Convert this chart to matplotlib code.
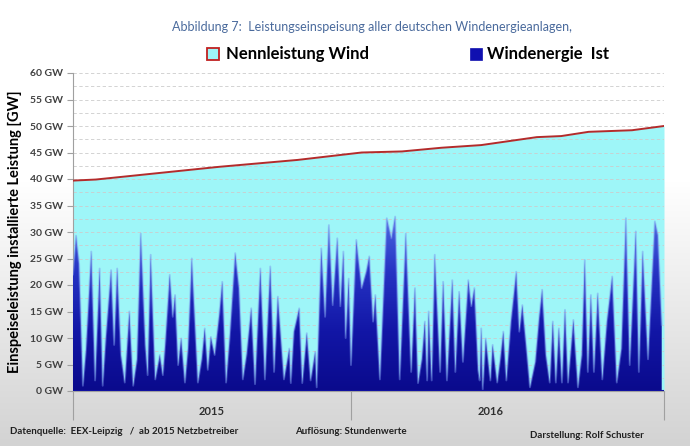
import numpy as np
import matplotlib
matplotlib.use("Agg")
import matplotlib.pyplot as plt
from matplotlib.colors import LinearSegmentedColormap
from matplotlib.patches import PathPatch, Rectangle

plt.rcParams['font.family'] = ['Lato', 'DejaVu Sans']

# days since 1 Jan 2015 and wind feed-in [GW] (peaks and troughs)
wind_days = [0, 4, 8, 13, 17, 24, 29, 35, 39, 43, 50, 54, 58, 63, 68, 74, 79, 84, 89, 95,
             98, 102, 108, 114, 118, 121, 127, 131, 134, 138, 142, 147, 151, 156, 164, 169, 173, 177, 181, 186,
             192, 196, 201, 206, 213, 218, 223, 228, 234, 239, 246, 252, 259, 264, 269, 277, 284, 286, 290, 297,
             301, 307, 312, 318, 320, 326, 331, 336, 341, 347, 351, 355, 358, 362, 365, 372, 379, 385, 389, 394,
             397, 403, 412, 418, 423, 429, 437, 444, 449, 453, 458, 462, 465, 467, 471, 475, 482, 486, 491, 498,
             502, 507, 512, 519, 523, 527, 532, 534, 536, 538, 542, 548, 551, 557, 561, 565, 569, 575, 582, 586,
             590, 595, 600, 607, 612, 616, 621, 626, 630, 634, 638, 642, 646, 650, 657, 663, 668, 672, 676, 680,
             684, 689, 695, 701, 708, 714, 720, 726, 731, 739, 743, 748, 755, 764, 768, 773]
wind_gw = [22.0, 29.3, 24.0, 1.0, 7.7, 26.3, 2.0, 23.1, 1.0, 9.9, 22.8, 8.7, 23.1, 6.8, 1.6, 15.0, 1.0, 6.0, 29.7, 8.7,
           3.0, 25.7, 2.2, 6.8, 3.0, 8.7, 21.9, 14.0, 18.1, 4.9, 9.9, 1.6, 8.0, 25.0, 1.6, 6.0, 11.8, 4.0, 10.2, 6.8,
           14.4, 20.6, 1.6, 10.6, 26.0, 19.4, 2.2, 7.0, 15.6, 1.3, 23.1, 2.2, 23.5, 3.6, 17.8, 2.2, 8.0, 1.5, 11.2, 15.6,
           1.5, 10.9, 2.0, 7.4, 0.7, 26.9, 14.0, 31.3, 16.2, 28.8, 16.0, 26.3, 10.0, 21.2, 4.9, 28.5, 19.4, 22.5, 25.4, 13.1,
           18.1, 2.2, 32.6, 28.8, 32.9, 2.2, 29.7, 3.6, 19.4, 1.5, 6.0, 13.1, 2.0, 15.0, 2.0, 25.7, 3.6, 20.6, 2.0, 20.9,
           3.6, 18.7, 5.5, 20.9, 16.0, 19.4, 4.0, 2.0, 11.8, 0.3, 9.9, 2.0, 8.7, 1.6, 6.0, 11.2, 2.0, 13.1, 22.5, 11.2,
           16.2, 8.7, 0.7, 5.5, 13.8, 19.1, 6.8, 1.6, 13.1, 1.6, 11.8, 1.6, 15.3, 1.6, 13.4, 0.7, 6.8, 24.7, 3.6, 18.1,
           3.6, 18.4, 2.2, 13.1, 21.6, 1.6, 8.0, 32.6, 4.9, 30.1, 3.6, 26.3, 6.0, 32.0, 29.4, 12.5]

# installed capacity [GW]
cap_days = [0, 30, 192, 295, 379, 432, 484, 536, 609, 641, 677, 734, 776]
cap_gw = [39.7, 39.9, 42.3, 43.6, 45.0, 45.2, 45.9, 46.4, 47.9, 48.1, 48.9, 49.2, 50.0]

year_ticks = [0, 365, 776]
year_labels = ['2015', '2016']
year_label_pos = [182, 548]

fig = plt.figure(figsize=(6.9, 4.46), dpi=100)

# light grey screen background, fading from white
bg = fig.add_axes([0, 0, 1, 1])
grad = np.concatenate([np.ones(180), np.linspace(1, 0, 266)]).reshape(-1, 1)
bg_cmap = LinearSegmentedColormap.from_list('bg', ['#d3d3d3', '#ffffff'])
bg.imshow(grad, aspect='auto', cmap=bg_cmap, extent=[0, 1, 0, 1], origin='upper', vmin=0, vmax=1)
bg.axis('off')

ax = fig.add_axes([73 / 690, 55 / 446, 591 / 690, 318 / 446])
ax.set_facecolor('white')

ax.fill_between(cap_days, cap_gw, color='#9ef6f8', zorder=1, lw=0)
ax.plot(cap_days, cap_gw, color='#b32b2b', lw=1.4, zorder=4)

for v in np.arange(2.5, 60.1, 2.5):
    ax.axhline(v, color='#cccccc', lw=0.6, ls=(0, (4, 3)), zorder=2)

poly = ax.fill_between(wind_days, wind_gw, color='none', lw=0)
patch = PathPatch(poly.get_paths()[0], transform=ax.transData, facecolor='none', edgecolor='none')
ax.add_patch(patch)
blue_cmap = LinearSegmentedColormap.from_list('wb', ['#0a0a8c', '#1216a6', '#2634c4', '#5070e4'])
im = ax.imshow(np.linspace(0, 1, 256).reshape(-1, 1), extent=[0, 776, 0, 34], origin='lower',
               aspect='auto', cmap=blue_cmap, zorder=3)
im.set_clip_path(patch)
# soft light-blue edge around the hourly spikes
ax.plot(wind_days, wind_gw, color='#7a94ee', lw=1.4, alpha=0.45, zorder=3)
ax.axhline(0, color='#1010a0', lw=1.5, zorder=4)

ax.set_xlim(0, 776)
ax.set_ylim(0, 60)
ax.set_yticks(range(0, 61, 5))
ax.set_yticklabels([f'{v} GW' for v in range(0, 61, 5)], fontsize=7.5, fontweight='bold', color='#404040')
ax.tick_params(axis='y', length=4, color='#a0a0a0', pad=3)

ax.set_xticks(year_ticks)
ax.set_xticklabels([])
ax.tick_params(axis='x', which='major', length=21, color='#a0a0a0', width=0.8)
ax.set_xticks(year_label_pos, minor=True)
ax.set_xticklabels(year_labels, minor=True, fontsize=8, fontweight='bold', color='#303030')
ax.tick_params(axis='x', which='minor', length=0, pad=11)

for s in ['top', 'right']:
    ax.spines[s].set_visible(False)
ax.spines['left'].set_color('#a0a0a0')
ax.spines['bottom'].set_color('#a0a0a0')

ax.set_ylabel('Einspeiseleistung installierte Leistung [GW]', fontsize=10.5, fontweight='bold', labelpad=6)

fig.text(372 / 690, 1 - 27 / 446, 'Abbildung 7:  Leistungseinspeisung aller deutschen Windenergieanlagen,',
         ha='center', va='center', fontsize=9, color='#4a6a9c')

# legend
fig.patches.append(Rectangle((207 / 690, 1 - 60 / 446), 12 / 690, 12 / 446, transform=fig.transFigure,
                             facecolor='#9ef6f8', edgecolor='#c02020', lw=1.3))
fig.text(226 / 690, 1 - 54 / 446, 'Nennleistung Wind', ha='left', va='center', fontsize=12, fontweight='bold')
fig.patches.append(Rectangle((470 / 690, 1 - 60 / 446), 12 / 690, 12 / 446, transform=fig.transFigure,
                             facecolor='#1010b0', edgecolor='#1010b0', lw=0.5))
fig.text(487 / 690, 1 - 54 / 446, 'Windenergie  Ist', ha='left', va='center', fontsize=12, fontweight='bold')

fig.text(10 / 690, 1 - 432 / 446, 'Datenquelle:  EEX-Leipzig   /  ab 2015 Netzbetreiber', ha='left', va='center',
         fontsize=7, fontweight='bold', color='#202020')
fig.text(295 / 690, 1 - 431 / 446, 'Auflösung: Stundenwerte', ha='left', va='center',
         fontsize=7, fontweight='bold', color='#202020')
fig.text(530 / 690, 1 - 436 / 446, 'Darstellung: Rolf Schuster', ha='left', va='center',
         fontsize=7, fontweight='bold', color='#202020')

fig.savefig('out.png', dpi=100)
